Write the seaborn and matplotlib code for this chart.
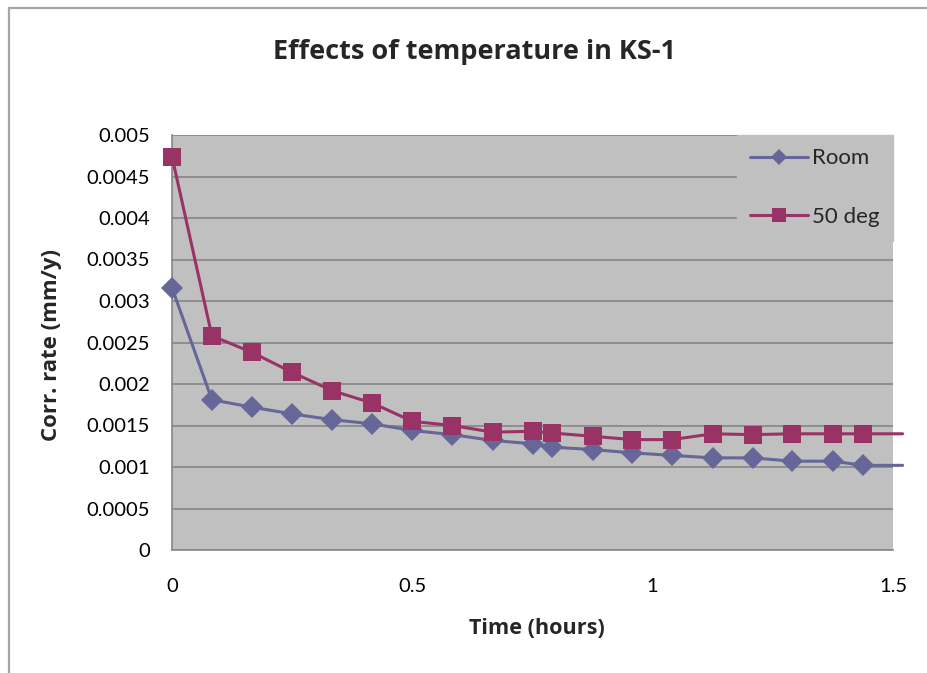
import matplotlib
matplotlib.use("Agg")
import matplotlib.pyplot as plt
import seaborn as sns
import pandas as pd
from matplotlib.lines import Line2D

# ---- data ----
time_h = [0, 0.083, 0.167, 0.25, 0.333, 0.417, 0.5, 0.583, 0.667, 0.75, 0.79,
          0.875, 0.958, 1.04, 1.125, 1.208, 1.29, 1.375, 1.4375]
room = [0.00316, 0.00181, 0.00172, 0.00164, 0.00157, 0.00152, 0.00144, 0.00139,
        0.00132, 0.00128, 0.00124, 0.00121, 0.00117, 0.00114, 0.00111, 0.00111,
        0.00107, 0.00107, 0.00102]
deg50 = [0.00474, 0.00258, 0.00238, 0.00214, 0.00192, 0.00177, 0.00155, 0.00150,
         0.00142, 0.00143, 0.00141, 0.00137, 0.00133, 0.00133, 0.00140, 0.00139,
         0.00140, 0.00140, 0.00140]
# the plotted lines run on a little past the last marker
line_end_h = 1.52
series_names = ["Room", "50 deg"]
title = "Effects of temperature in KS-1"
x_label = "Time (hours)"
y_label = "Corr. rate (mm/y)"
x_ticks = [0, 0.5, 1, 1.5]
y_ticks = [0, 0.0005, 0.001, 0.0015, 0.002, 0.0025, 0.003, 0.0035, 0.004, 0.0045, 0.005]

rows = []
for name, vals in zip(series_names, [room, deg50]):
    for t, v in zip(time_h, vals):
        rows.append({"time": t, "rate": v, "series": name})
    rows.append({"time": line_end_h, "rate": vals[-1], "series": name})
df = pd.DataFrame(rows)

sns.set_theme(style="white")
plt.rcParams["font.family"] = ["Lato", "DejaVu Sans"]

W, H = 927, 673
fig = plt.figure(figsize=(W / 100, H / 100), dpi=100)
fig.patch.set_facecolor("white")
ax = fig.add_axes([172 / W, 1 - 550 / H, (893 - 172) / W, (550 - 135) / H])
ax.set_facecolor("#C0C0C0")

colors = {"Room": "#666699", "50 deg": "#993366"}
markers = {"Room": "D", "50 deg": "s"}
msize = {"Room": 11, "50 deg": 13.5}
n = len(time_h)
for name in series_names:
    sub = df[df["series"] == name]
    sns.lineplot(data=sub, x="time", y="rate", ax=ax, color=colors[name],
                 linewidth=2.2, marker=markers[name], markersize=msize[name],
                 markeredgewidth=0, markevery=list(range(n)), clip_on=False,
                 label=name, zorder=3)

ax.set_xlim(0, 1.5)
ax.set_ylim(0, 0.005)
ax.set_xticks(x_ticks)
ax.set_xticklabels([f"{v:g}" for v in x_ticks])
ax.set_yticks(y_ticks)
ax.set_yticklabels([f"{v:g}" for v in y_ticks])
ax.yaxis.grid(True, color="#868686", linewidth=1.2, zorder=1)
ax.xaxis.grid(False)
ax.set_axisbelow(True)
for side in ["top", "right"]:
    ax.spines[side].set_visible(False)
for side in ["left", "bottom"]:
    ax.spines[side].set_color("#868686")
    ax.spines[side].set_linewidth(1.2)
ax.tick_params(axis="both", which="major", direction="out", length=6, width=1.2,
               color="#868686", labelsize=14.5, labelcolor="black")
ax.tick_params(axis="y", pad=10)
ax.tick_params(axis="x", pad=14)
ax.set_xlabel("")
ax.set_ylabel("")

leg = ax.legend(loc="upper right", bbox_to_anchor=(1.0, 1.0), frameon=True,
                fontsize=16, handlelength=2.6, labelspacing=1.75,
                borderpad=0.6, handletextpad=0.2, borderaxespad=0.0,
                markerscale=0.75)
leg.get_frame().set_facecolor("#C0C0C0")
leg.get_frame().set_edgecolor("#C0C0C0")
leg.get_frame().set_alpha(1.0)
leg.get_frame().set_boxstyle("square", pad=0.0)
leg.set_zorder(5)

fig.text(474 / W, 1 - 52 / H, title, ha="center", va="center",
         fontsize=19.5, fontweight="bold", family=["Open Sans", "DejaVu Sans"])
fig.text(537 / W, 1 - 629 / H, x_label, ha="center", va="center",
         fontsize=15.6, fontweight="bold", family=["Open Sans", "DejaVu Sans"])
fig.text(52 / W, 1 - 345 / H, y_label, ha="center", va="center",
         rotation=90, fontsize=16, fontweight="bold", family=["Open Sans", "DejaVu Sans"])

# chart-area border
fig.add_artist(Line2D([9 / W, 1.0], [1 - 8 / H, 1 - 8 / H], color="#A6A6A6", linewidth=1.6))
fig.add_artist(Line2D([9 / W, 9 / W], [1 - 8 / H, 0.0], color="#A6A6A6", linewidth=1.6))

fig.savefig("out.png", dpi=100, facecolor="white")
